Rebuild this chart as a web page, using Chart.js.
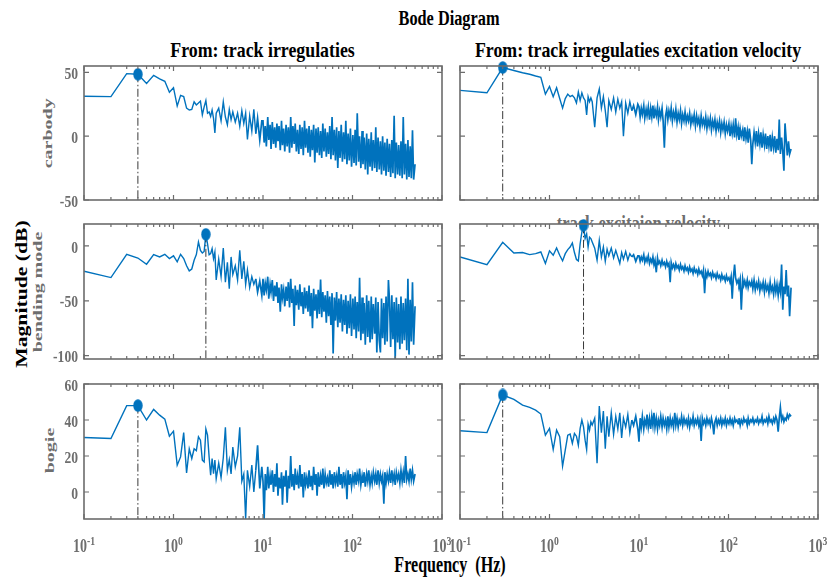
<!DOCTYPE html>
<html>
<head>
<meta charset="utf-8">
<title>Bode Diagram</title>
<script src="https://cdn.jsdelivr.net/npm/chart.js@4.4.1/dist/chart.umd.min.js"></script>
<style>
  html, body { margin: 0; padding: 0; background: #fff; }
  #fig { position: relative; width: 827px; height: 583px; overflow: hidden; }
  #fig svg, #fig canvas { position: absolute; left: 0; top: 0; }
  svg text { font-family: "Liberation Serif", "Times New Roman", serif; font-weight: bold; white-space: pre; }
  .gray { fill: #6e6e6e; }
</style>
</head>
<body>
<div id="fig">
  <svg width="827" height="583">
    <text transform="translate(449,25) scale(0.815,1)" text-anchor="middle" font-size="20">Bode Diagram</text>
    <text transform="translate(262.5,57) scale(0.85,1)" text-anchor="middle" font-size="21">From: track irregulaties</text>
    <text transform="translate(638,57) scale(0.85,1)" text-anchor="middle" font-size="21">From: track irregulaties excitation velocity</text>
    <text transform="translate(27,294) rotate(-90) scale(1,0.8)" text-anchor="middle" font-size="21.7">Magnitude (dB)</text>
    <text class="gray" transform="translate(52,133.3) rotate(-90) scale(1,0.65)" text-anchor="middle" font-size="20">carbody</text>
    <text class="gray" transform="translate(42,292) rotate(-90) scale(1,0.65)" text-anchor="middle" font-size="20">bending mode</text>
    <text class="gray" transform="translate(54,450.5) rotate(-90) scale(1,0.65)" text-anchor="middle" font-size="20">bogie</text>
    <text class="gray" transform="translate(638.3,229.5) scale(0.826,1)" text-anchor="middle" font-size="20">track excitaion velocity</text>
    <text transform="translate(450,571.7) scale(0.712,1)" text-anchor="middle" font-size="22.6">Frequency  (Hz)</text>
  </svg>
  <canvas id="c0" width="827" height="583"></canvas>
  <canvas id="c1" width="827" height="583"></canvas>
  <canvas id="c2" width="827" height="583"></canvas>
  <canvas id="c3" width="827" height="583"></canvas>
  <canvas id="c4" width="827" height="583"></canvas>
  <canvas id="c5" width="827" height="583"></canvas>
</div>
<script>
// ---------- data (magnitude, dB) ----------

const freqHz = [
  0.1, 0.2, 0.3, 0.4, 0.5, 0.6, 0.7, 0.8, 0.9, 1.0,
  1.1, 1.2, 1.3, 1.4, 1.5, 1.6, 1.7, 1.8, 1.9, 2.0,
  2.1, 2.2, 2.3, 2.4, 2.5, 2.6, 2.7, 2.8, 2.9, 3.0,
  3.2, 3.4, 3.6, 3.8, 4.0, 4.2, 4.4, 4.6, 4.9, 5.2,
  5.5, 5.8, 6.1, 6.4, 6.7, 7.1, 7.5, 7.9, 8.3, 8.7,
  9.2, 9.7,
  10.0, 10.3, 10.6, 10.9, 11.3, 11.6, 12.0, 12.3, 12.7, 13.1,
  13.5, 13.9, 14.3, 14.7, 15.1, 15.6, 16.1, 16.5, 17.0, 17.5,
  18.1, 18.6, 19.2, 19.8, 20.4, 21.0, 21.6, 22.3, 22.9, 23.6,
  24.3, 25.1, 25.8, 26.6, 27.4, 28.2, 29.1, 29.9, 30.8, 31.8,
  32.7, 33.7, 34.7, 35.7, 36.8, 37.9, 39.1, 40.2, 41.4, 42.7,
  44.0, 45.3, 46.6, 48.0, 49.5, 51.0, 52.5, 54.1, 55.7, 57.4,
  59.1, 60.8, 62.7, 64.5, 66.5, 68.5, 70.5, 72.6, 74.8, 77.1,
  79.4, 81.8, 84.2, 86.7, 89.3, 92.0, 94.8, 97.6, 101, 104,
  107, 110, 113, 117, 120, 124, 128, 131, 135, 139,
  144, 148, 152, 157, 162, 166, 171, 177, 182, 187,
  193, 199, 205, 211, 217, 224, 230, 237, 244, 252,
  259, 267, 275, 283, 292, 300, 309, 319, 328, 338,
  348, 359, 369, 380, 392, 404, 416, 428, 441, 454,
  468, 482, 500
];

// From: track irregulaties
const carbodyTrack = [
  31.3, 31, 49, 48.5, 41.3, 47.7, 45, 43, 34.4, 38,
  23.6, 32, 31, 22, 20.5, 21, 27, 24.5, 26, 27.5,
  16.7, 23, 28, 18, 19, 15.5, 20.5, 14, 2.6, 18,
  22, 12, 27, 15, 9, 21, 13, 19, 11, 18,
  7.7, 20, 10, 18, -2.6, 16, 4, 21, 2, 14,
  -3, 12,
  12, -5, 8, -8, 15, -3, 9, -10, 11, -6,
  7, -9, 10, -4, 8, -11, 12, -7, 6, -12,
  9, -8, 7, -13, 15, -9, 8, -6, 10, -12,
  5, -14, 9, -10, 7, -15, 12, -9, 6, -13,
  8, -16, 5, -11, 9, -20.5, 6, -13, 7, -15,
  4, -17, 10, -12, 6, -16, 3, -14, 8, -18,
  15, -15, 5, -19, 7, -25, 4, -17, 9, -20,
  3, -18, 12, -22, 2, -19, 6, -24, 1, -21,
  5, -23, 18, -20, 0, -25, 4, -22, -1, -26,
  2, -30, -2, -24, 3, -27, -3, -25, 7, -28,
  -1, -26, -4, -30, 0, -27, -5, -31, -2, -28,
  -6, -32, -3, -29, 16, -33, -5, -30, -7, -31,
  -4, -33, 15, -30, -6, -34, -3, -32, -8, -33,
  4.6, -34, -22
];
const bendingTrack = [
  -23, -28.8, -7.6, -11, -16.7, -7.9, -10, -7.6, -11.5, -9,
  -14.5, -7.6, -11.5, -18, -22.7, -21, -13, -7.9, 3.6, -4,
  -6.4, -5, 10.6, 2, -8, -7, -2.4, -11.5, -5.5, -31,
  -12, -28, -2, -33, -15, -39, -10, -26, -18, -31,
  -4, -30, -14, -35, -22, -38, -28, -35, -30, -42,
  -32, -45,
  -30, -45, -34, -40, -28, -48, -35, -42, -31, -50,
  -36, -46, -33, -52, -38, -60, -35, -47, -40, -55,
  -37, -50, -33, -56, -30, -52, -39, -73, -36, -54,
  -40, -58, -35, -55, -42, -62, -38, -57, -41, -60,
  -36, -64, -43, -75, -39, -59, -44, -66, -40, -62,
  -30.6, -65, -42, -60, -45, -70, -41, -64, -46, -72,
  -43, -98, -47, -68, -42, -74, -48, -70, -44, -78,
  -49, -72, -45, -80, -50, -75, -44, -82, -48, -76,
  -46, -84, -51, -78, -29, -86, -47, -80, -52, -90,
  -45, -83, -50, -88, -46, -85, -53, -80, -47, -97,
  -51, -86, -97, -48, -84, -52, -90, -46, -87, -31,
  -50, -92, -45, -85, -51, -104, -47, -88, -53, -94,
  -46, -89, -52, -86, -48, -95, -30, -99, -49, -87,
  -33, -90, -55
];
const bogieTrack = [
  30.3, 29.7, 48, 48, 40, 45.9, 42.7, 40.5, 31, 33.8,
  14.9, 19.5, 33, 10.6, 24, 18.6, 24, 23, 30.7, 28.8,
  17.7, 16.7, 35, 31.6, 19.5, 9.3, 18.6, 10.2, 17.7, 7.4,
  16, 8, 19, 36, 12, 18, 10, 25, 14, 20,
  36, 6, 10, -15, 12, 3, 15, 0, 12, 26,
  2, 14,
  6, -15, 10, 1, 14, 2, 9, 4, 12, 0,
  10, 3, 16, -2, 8, 2, 11, -7, 9, 3,
  12, -6, 9, 2, 20, 3, 10, 1, 13, 4,
  9, 2, 15, 3, 10, -3, 11, 4, 8, 2,
  12, 3, 9, 1, 14, 4, 10, -2, 11, 3,
  9, 4, 13, 2, 10, 5, 8, 3, 12, 4,
  10, 2, 11, 5, 9, 3, 14, 4, 10, 2,
  11, 5, 9, -4, 12, 4, 10, 3, 9, 5,
  11, 4, 10, 6, 13, 4, 9, 5, 11, 3,
  10, 6, 12, 4, 9, 5, 11, 6, 10, 4,
  12, 5, 10, 6, 9, -6.5, 11, 5, 10, 6,
  11, 5, 12, 6, 10, 4, 11, 7, 10, 5,
  12, 6, 11, 5, 20, 7, 10, 6, 13, 7,
  12, 6, 10
];

// From: track irregulaties excitation velocity
const carbodyVel = [
  35.9, 34, 53.8, 51.5, 49.7, 48.5, 47.2, 46.2, 33, 39,
  31, 38, 29.5, 22, 29.5, 33, 31, 32, 30, 26,
  34.6, 28, 34, 30, 28, 16.7, 31, 27, 30, 27,
  7, 30, 37, 22, 31, 20, 7, 28, 21, 30,
  19, 29, 22, 27, 0, 26, 18, 27, 20, 24,
  17, 25,
  23, 15, 22, 17, 24, 14, 21, 16, 23, 13,
  22, 15, 24, 14, 21, 16, 23, 13, 20, 15,
  22, 12, -9, 16, 21, 13, 20, 15, 22, 12,
  19, 14, 21, 11, 18, 13, 20, 10, 17, 12,
  19, 11, 16, 12, 18, 9, 15, 11, 17, 8,
  16, 10, 14, 7, 16, 9, 13, 8, 15, 6,
  13, 8, 14, 5, 12, 7, 13, 4, 11, 6,
  12, 3, 10, 5, 11, 2, 9, 4, 10, 0,
  8, 2, 9, -1, 14, 1, 7, -3, 6, 0,
  5, -4, 7, -2, 4, -5, 6, -3, -22, -6,
  3, -5, 4, -8, 2, -6, 3, -9, 1, -7,
  2, -10, 0, -8, 1, -12, -1, -9, 0, -13,
  -2, -11, 13, -14, -1, -12, -27, 10, -3, -15,
  -4, -14, -10
];
const bendingVel = [
  -10, -17, 3.3, -6.4, -6, -7.9, -7, -5.5, -16, -4.5,
  -8.5, -1.8, -8.5, -13.6, -7, -3.3, -1, 2.7, -6, -12.4,
  -13.6, 2, 12.7, 18.8, 6.7, 11, -1, 8, 6.7, 3.6,
  -2, -13, 5, -10, -1, -14, -3, -9, -2, -11,
  -4, -10, -16, -6, -12, -5, -13, -7, -10, -8,
  -14, -9,
  -9, -14, -10, -13, -8, -15, -11, -14, -9, -16,
  -12, -15, -10, -17, -13, -24, -11, -16, -14, -18,
  -13, -17, -15, -19, -14, -18, -16, -33, -15, -20,
  -17, -21, -16, -20, -18, -22, -17, -21, -19, -23,
  -18, -22, -20, -24, -19, -23, -21, -25, -20, -24,
  -22, -26, -21, -25, -23, -27, -22, -43, -24, -28,
  -23, -27, -25, -29, -24, -28, -26, -30, -25, -29,
  -27, -31, -26, -30, -28, -32, -27, -31, -29, -33,
  -28, -48, -30, -17, -29, -34, -31, -35, -30, -58,
  -30, -36, -32, -37, -31, -38, -33, -36, -32, -39,
  -31, -40, -34, -38, -32, -41, -35, -39, -33, -42,
  -34, -40, -36, -43, -33, -41, -37, -44, -34, -42,
  -35, -45, -36, -42, -17, -58, -37, -44, -22, -46,
  -36, -64, -38
];
const bogieVel = [
  34, 33, 53.9, 51.5, 48.3, 47, 45.5, 43.3, 31.6, 35.3,
  23.6, 34.4, 30.7, 14.3, 23.2, 31.6, 32.2, 27, 32.5, 31,
  26, 35.3, 40, 36.2, 28.8, 23.6, 37.7, 34.4, 39, 37.2,
  41, 16, 47.8, 33, 45, 24, 42, 30.7, 44, 32,
  42, 35, 44, 30, 41, 36, 43, 33, 40, 37,
  42, 35,
  28, 41, 36, 42, 35, 40, 37, 43, 36, 41,
  35, 42, 37, 44, 36, 41, 35, 40, 37, 42,
  36, 41, 37, 40, 35, 42, 36, 41, 37, 40,
  36, 44, 37, 41, 36, 40, 38, 42, 37, 41,
  38, 40, 37, 41, 36, 40, 38, 42, 37, 40,
  38, 41, 37, 40, 28.4, 41, 38, 40, 37, 41,
  38, 40, 37, 41, 38, 32, 39, 41, 37, 40,
  38, 41, 37, 40, 38, 41, 37, 40, 38, 41,
  38, 40, 37, 41, 39, 40, 38, 41, 37, 40,
  38, 41, 39, 40, 37, 41, 38, 40, 39, 41,
  38, 40, 39, 41, 38, 40, 39, 42, 38, 40,
  39, 41, 38, 42, 39, 40, 38, 41, 39, 42,
  40, 33.5, 41, 47, 40, 42, 39, 41, 40, 43,
  41, 43, 42
];

// peak markers, same order as the panels below
const peakFreq = [0.4, 2.3, 0.4, 0.3, 2.4, 0.3];
const peakMag  = [48.5, 10.6, 48, 53.8, 18.8, 53.9];

// axis limits and ticks per row
const rowMin   = [-50, -103, -15];
const rowMax   = [55, 20, 60];
const rowTicks = [[-50, 0, 50], [-100, -50, 0], [0, 20, 40, 60]];
const decades  = [0.1, 1, 10, 100, 1000];
const decadeExp = ["-1", "0", "1", "2", "3"];

// ---------- layout ----------
const W = 827, H = 583;
const colLeft = [84, 460], colRight = [442, 818];
const rowTop = [66, 224, 384], rowBottom = [200, 359, 519];
const BLUE = "#0072BD", AXIS = "#6c6c6c", GRAY = "#6e6e6e";
const SERIF = '"Liberation Serif", "Times New Roman", serif';

const panels = [
  { vals: carbodyTrack, col: 0, row: 0 },
  { vals: bendingTrack, col: 0, row: 1 },
  { vals: bogieTrack,   col: 0, row: 2 },
  { vals: carbodyVel,   col: 1, row: 0 },
  { vals: bendingVel,   col: 1, row: 1 },
  { vals: bogieVel,     col: 1, row: 2 }
];

// elliptical peak marker (the figure is squeezed horizontally)
const dot = document.createElement("canvas");
dot.width = 10; dot.height = 13;
const dctx = dot.getContext("2d");
dctx.fillStyle = BLUE;
dctx.beginPath();
dctx.ellipse(5, 6.5, 4.7, 6.2, 0, 0, Math.PI * 2);
dctx.fill();

function squeezedText(ctx, text, x, y, sx) {
  ctx.save();
  ctx.translate(x, y);
  ctx.scale(sx, 1);
  ctx.fillText(text, 0, 0);
  ctx.restore();
}

// MATLAB-like box: white axes, inward ticks on all sides, tick labels
const frame = {
  id: "frame",
  beforeDraw(chart) {
    const a = chart.chartArea, ctx = chart.ctx;
    ctx.save();
    ctx.fillStyle = "#fff";
    ctx.fillRect(a.left, a.top, a.right - a.left, a.bottom - a.top);
    ctx.restore();
  },
  afterDraw(chart, args, o) {
    const a = chart.chartArea, ctx = chart.ctx;
    const xs = chart.scales.x, ys = chart.scales.y;
    ctx.save();
    ctx.strokeStyle = AXIS;
    ctx.lineWidth = 1.2;
    ctx.beginPath();
    decades.forEach((d, i) => {
      const x = xs.getPixelForValue(d);
      ctx.moveTo(x, a.bottom); ctx.lineTo(x, a.bottom - 5);
      ctx.moveTo(x, a.top); ctx.lineTo(x, a.top + 5);
      if (i < decades.length - 1) {
        for (let m = 2; m <= 9; m++) {
          const xm = xs.getPixelForValue(d * m);
          ctx.moveTo(xm, a.bottom); ctx.lineTo(xm, a.bottom - 3);
          ctx.moveTo(xm, a.top); ctx.lineTo(xm, a.top + 3);
        }
      }
    });
    o.ticks.forEach(v => {
      const y = ys.getPixelForValue(v);
      ctx.moveTo(a.left, y); ctx.lineTo(a.left + 5, y);
      ctx.moveTo(a.right, y); ctx.lineTo(a.right - 5, y);
    });
    ctx.stroke();
    ctx.lineWidth = 1.6;
    ctx.strokeRect(a.left, a.top, a.right - a.left, a.bottom - a.top);

    ctx.fillStyle = GRAY;
    if (o.yLabels) {
      ctx.font = "bold 16px " + SERIF;
      ctx.textAlign = "right";
      ctx.textBaseline = "middle";
      o.ticks.forEach(v => {
        squeezedText(ctx, String(v), a.left - 6, ys.getPixelForValue(v) + 2.5, 0.85);
      });
    }
    if (o.xLabels) {
      ctx.textAlign = "left";
      ctx.textBaseline = "alphabetic";
      const sx = 0.745;
      decades.forEach((d, i) => {
        const x = xs.getPixelForValue(d);
        ctx.font = "bold 18.8px " + SERIF;
        const wMain = ctx.measureText("10").width * sx;
        ctx.font = "bold 13px " + SERIF;
        const wExp = ctx.measureText(decadeExp[i]).width * sx;
        const x0 = x - (wMain + wExp) / 2;
        ctx.font = "bold 18.8px " + SERIF;
        squeezedText(ctx, "10", x0, 551.7, sx);
        ctx.font = "bold 13px " + SERIF;
        squeezedText(ctx, decadeExp[i], x0 + wMain, 545, sx);
      });
    }
    ctx.restore();
  }
};

panels.forEach((p, k) => {
  const yMin = rowMin[p.row], yMax = rowMax[p.row];
  new Chart(document.getElementById("c" + k), {
    type: "line",
    data: {
      datasets: [
        {
          data: [{ x: peakFreq[k], y: peakMag[k] }],
          showLine: false,
          pointStyle: dot,
          pointRadius: 5,
          clip: false,
          order: 0
        },
        {
          data: [{ x: peakFreq[k], y: peakMag[k] }, { x: peakFreq[k], y: yMin }],
          borderColor: "#222",
          borderWidth: 0.9,
          borderDash: [8, 2.5, 1.5, 2.5],
          pointRadius: 0,
          order: 1
        },
        {
          data: freqHz.map((f, i) => ({ x: f, y: p.vals[i] })),
          borderColor: BLUE,
          borderWidth: 1.7,
          borderJoinStyle: "miter",
          // thinner stroke where the samples are sparse, heavier in the dense band
          segment: { borderWidth: c => (c.p0.parsed.x < 8 ? 1.4 : 1.7) },
          pointRadius: 0,
          tension: 0,
          order: 2
        }
      ]
    },
    options: {
      responsive: false,
      animation: false,
      devicePixelRatio: 1,
      events: [],
      layout: {
        padding: {
          left: colLeft[p.col],
          right: W - colRight[p.col],
          top: rowTop[p.row],
          bottom: H - rowBottom[p.row]
        }
      },
      scales: {
        x: { type: "logarithmic", min: 0.1, max: 1000, display: false },
        y: { type: "linear", min: yMin, max: yMax, display: false }
      },
      plugins: {
        legend: { display: false },
        tooltip: { enabled: false },
        frame: {
          ticks: rowTicks[p.row],
          yLabels: p.col === 0,
          xLabels: p.row === 2
        }
      }
    },
    plugins: [frame]
  });
});
</script>
</body>
</html>
